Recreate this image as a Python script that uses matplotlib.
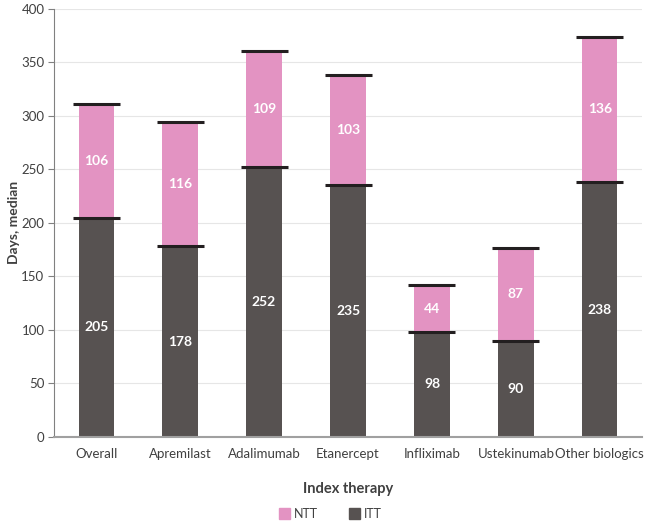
import matplotlib.pyplot as plt
import numpy as np

plt.rcParams['font.family'] = ['Lato', 'DejaVu Sans']

# data
therapies = ['Overall', 'Apremilast', 'Adalimumab', 'Etanercept',
             'Infliximab', 'Ustekinumab', 'Other biologics']
itt = [205, 178, 252, 235, 98, 90, 238]
ntt = [106, 116, 109, 103, 44, 87, 136]

pink = '#e393c2'
dark = '#575251'
cap = '#231f20'
grey_txt = '#404040'

fig = plt.figure(figsize=(6.61, 5.22), dpi=100)
ax = fig.add_axes([0.082, 0.163, 0.889, 0.82])

x = np.arange(len(therapies))
itt = np.array(itt)
ntt = np.array(ntt)
total = itt + ntt

w = 0.42
ax.bar(x, itt, width=w, color=dark, zorder=2)
ax.bar(x, ntt, width=w, bottom=itt, color=pink, zorder=2)

# black caps at the end of each segment
cw = 0.56
ax.hlines(itt, x - cw / 2, x + cw / 2, color=cap, lw=2.2, zorder=3)
ax.hlines(total, x - cw / 2, x + cw / 2, color=cap, lw=2.2, zorder=3)

# labels inside bars
for xi, a, b in zip(x, itt, ntt):
    ax.text(xi, a / 2, str(a), ha='center', va='center', color='white',
            fontsize=10, fontweight='bold', zorder=4)
    ax.text(xi, a + b / 2, str(b), ha='center', va='center', color='white',
            fontsize=10, fontweight='bold', zorder=4)

ax.set_xlim(-0.5, len(therapies) - 0.5)
ax.set_ylim(0, 400)
ax.set_yticks(range(0, 401, 50))
ax.set_xticks(x)
ax.set_xticklabels(therapies)
ax.yaxis.grid(True, color='#e6e6e6', lw=0.8, zorder=0)
ax.set_axisbelow(True)

for s in ['top', 'right']:
    ax.spines[s].set_visible(False)
ax.spines['left'].set_color('#808080')
ax.spines['bottom'].set_color('#a0a0a0')
ax.spines['bottom'].set_linewidth(1.5)
ax.tick_params(axis='y', colors='#808080', labelcolor=grey_txt, labelsize=9.5, length=4, pad=3)
ax.tick_params(axis='x', length=0, labelcolor=grey_txt, labelsize=9.5, pad=8)

ax.set_ylabel('Days, median', fontsize=10, fontweight='bold', color=grey_txt)
ax.yaxis.set_label_coords(-0.058, 0.5)
ax.set_xlabel('Index therapy', fontsize=10.5, fontweight='bold', color=grey_txt, labelpad=16)

h1 = plt.Rectangle((0, 0), 1, 1, color=pink)
h2 = plt.Rectangle((0, 0), 1, 1, color=dark)
fig.legend([h1, h2], ['NTT', 'ITT'], loc='center', bbox_to_anchor=(0.5, 0.016),
           ncol=2, frameon=False, fontsize=9, handlelength=0.9, handleheight=0.9,
           handletextpad=0.3, columnspacing=2.5, labelcolor=grey_txt)

fig.savefig('out.png', dpi=100)
